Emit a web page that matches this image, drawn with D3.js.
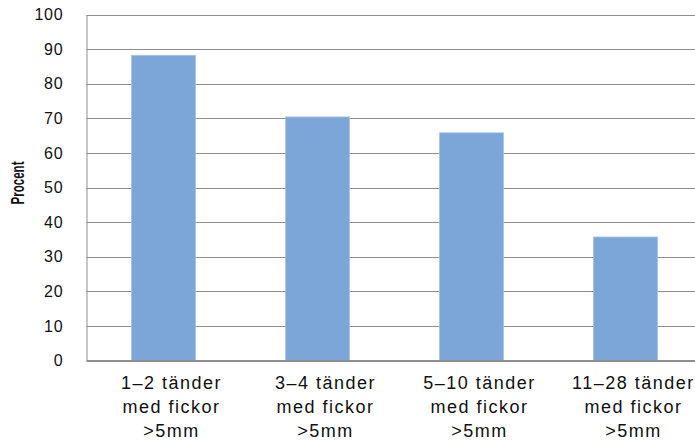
<!DOCTYPE html>
<html>
<head>
<meta charset="utf-8">
<script src="https://cdn.jsdelivr.net/npm/d3@7"></script>
<style>
  html, body { margin: 0; padding: 0; background: #fff; }
  svg { display: block; }
  text { font-family: "Liberation Sans", Arial, sans-serif; fill: #111; }
</style>
</head>
<body>
<svg id="chart" width="695" height="443"></svg>
<script>
// Share of patients per group of teeth with pockets > 5 mm
const categories = [
  ["1–2 tänder", "med fickor", ">5mm"],
  ["3–4 tänder", "med fickor", ">5mm"],
  ["5–10 tänder", "med fickor", ">5mm"],
  ["11–28 tänder", "med fickor", ">5mm"]
];
const values = [88.2, 70.4, 65.8, 35.7];
const yTicks = [0, 10, 20, 30, 40, 50, 60, 70, 80, 90, 100];
const yTitle = "Procent";

const svg = d3.select("#chart");
const plotLeft = 86.5, plotTop = 14.5, plotBottom = 360.5, plotRight = 702.5;

const x = d3.scaleBand()
  .domain(d3.range(categories.length))
  .range([plotLeft, plotRight])
  .paddingInner(0.584)
  .paddingOuter(0.292);

const y = d3.scaleLinear().domain([0, 100]).range([plotBottom, plotTop]);

// horizontal gridlines
svg.append("g")
  .selectAll("line")
  .data(yTicks)
  .join("line")
  .attr("x1", plotLeft).attr("x2", plotRight)
  .attr("y1", d => Math.round(y(d)) + 0.5)
  .attr("y2", d => Math.round(y(d)) + 0.5)
  .attr("stroke", "#8e8e8e")
  .attr("stroke-width", 1);

// bars
svg.append("g")
  .selectAll("rect")
  .data(values)
  .join("rect")
  .attr("x", (d, i) => x(i))
  .attr("width", x.bandwidth())
  .attr("y", d => y(d))
  .attr("height", d => plotBottom - y(d))
  .attr("fill", "#7ca6d8")
  .attr("stroke", "#a6c2e6")
  .attr("stroke-width", 0.8);

// y axis
const yAxis = d3.axisLeft(y).tickValues(yTicks).tickSize(0).tickPadding(23);
const gy = svg.append("g")
  .attr("transform", `translate(${plotLeft},0)`)
  .call(yAxis);
gy.select(".domain").attr("stroke", "#8e8e8e");
gy.selectAll("text")
  .attr("font-size", 16)
  .attr("letter-spacing", 0.8)
  .attr("fill", "#111")
  .attr("font-family", "Liberation Sans, Arial, sans-serif");

// bottom baseline
svg.append("line")
  .attr("x1", plotLeft).attr("x2", plotRight)
  .attr("y1", plotBottom).attr("y2", plotBottom)
  .attr("stroke", "#8e8e8e");

// category labels, set slightly right of the bar centres
const labels = svg.append("g")
  .selectAll("text")
  .data(categories)
  .join("text")
  .attr("text-anchor", "middle")
  .attr("font-size", 18)
  .attr("letter-spacing", 1.5)
  .attr("x", (d, i) => x(i) + x.bandwidth() / 2 + 8);
labels.selectAll("tspan")
  .data(d => d)
  .join("tspan")
  .attr("x", function() { return this.parentNode.getAttribute("x"); })
  .attr("y", (d, i) => 389 + i * 24)
  .text(d => d);

// y title
svg.append("text")
  .attr("transform", "translate(24,183) rotate(-90)")
  .attr("text-anchor", "middle")
  .attr("font-size", 19)
  .attr("font-weight", "bold")
  .attr("textLength", 43)
  .attr("lengthAdjust", "spacingAndGlyphs")
  .text(yTitle);
</script>
</body>
</html>
